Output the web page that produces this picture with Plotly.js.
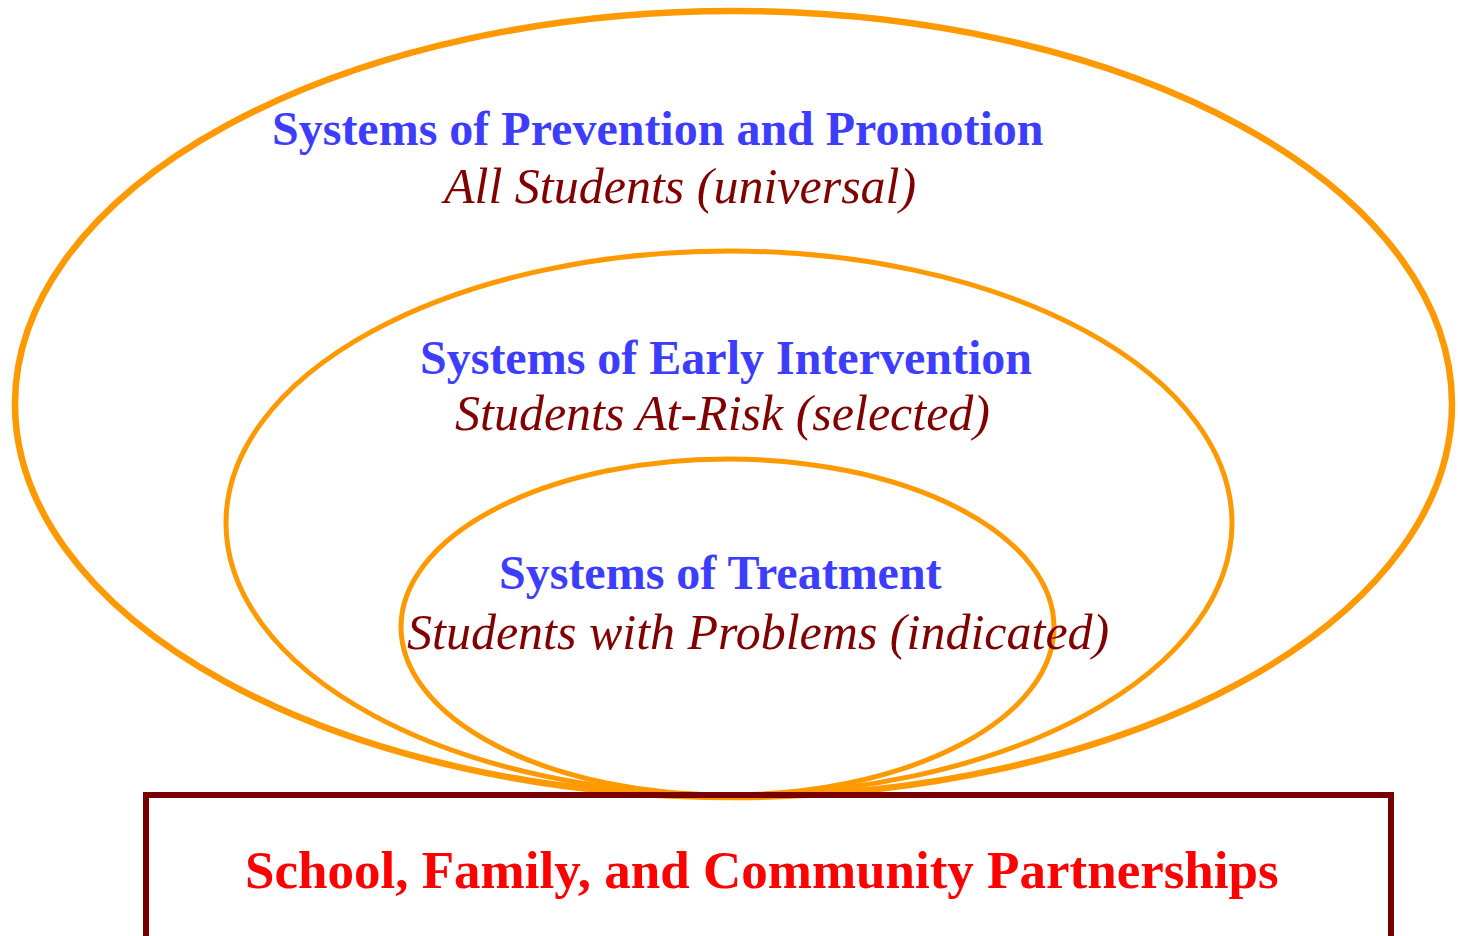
<!DOCTYPE html>
<html>
<head>
<meta charset="utf-8">
<script src="https://cdn.plot.ly/plotly-3.0.1.min.js"></script>
<style>html,body{margin:0;padding:0;background:#fff;}#chart{width:1458px;height:936px;}</style>
</head>
<body>
<div id="chart"></div>
<script>
// Diagram content
const systems = ["Systems of Prevention and Promotion", "Systems of Early Intervention", "Systems of Treatment"];
const populations = ["All Students (universal)", "Students At-Risk (selected)", "Students with Problems (indicated)"];
const foundation = ["School, Family, and Community Partnerships"];

// Layout geometry (pixel-space coordinates of the 1458x936 canvas)
const rings = [
  {x0: 15, x1: 1452, y0: 11, y1: 797, w: 6.5},
  {x0: 226, x1: 1232, y0: 251, y1: 795, w: 5},
  {x0: 401, x1: 1054, y0: 459, y1: 795, w: 5}
];
const sysPos = [{x: 658, y: 128}, {x: 726, y: 357}, {x: 720, y: 572}];
const popPos = [{x: 678, y: 186}, {x: 722, y: 413}, {x: 758, y: 632}];
const footPos = {x: 762, y: 870};

const shapes = rings.map(r => ({
  type: 'circle', xref: 'x', yref: 'y',
  x0: r.x0, x1: r.x1, y0: r.y0, y1: r.y1,
  line: {color: '#ff9900', width: r.w}, fillcolor: 'rgba(0,0,0,0)', layer: 'above'
}));
shapes.push({
  type: 'rect', xref: 'x', yref: 'y', x0: 146, x1: 1391, y0: 795, y1: 960,
  line: {color: '#780000', width: 6}, fillcolor: 'rgba(0,0,0,0)', layer: 'above'
});

const annotations = [];
systems.forEach((t, i) => annotations.push({
  x: sysPos[i].x, y: sysPos[i].y, xref: 'x', yref: 'y', text: '<b>' + t + '</b>', showarrow: false,
  xanchor: 'center', yanchor: 'middle',
  font: {family: 'Liberation Serif', size: 48, color: '#3d3dff'}
}));
populations.forEach((t, i) => annotations.push({
  x: popPos[i].x, y: popPos[i].y, xref: 'x', yref: 'y', text: '<i>' + t + '</i>', showarrow: false,
  xanchor: 'center', yanchor: 'middle',
  font: {family: 'Liberation Serif', size: 50, color: '#800000'}
}));
annotations.push({
  x: footPos.x, y: footPos.y, xref: 'x', yref: 'y', text: '<b>' + foundation[0] + '</b>', showarrow: false,
  xanchor: 'center', yanchor: 'middle',
  font: {family: 'Liberation Serif', size: 53, color: '#ff0000'}
});

const layout = {
  width: 1458, height: 936,
  margin: {l: 0, r: 0, t: 0, b: 0},
  paper_bgcolor: '#ffffff', plot_bgcolor: '#ffffff',
  xaxis: {range: [0, 1458], visible: false, fixedrange: true},
  yaxis: {range: [936, 0], visible: false, fixedrange: true},
  showlegend: false,
  shapes: shapes,
  annotations: annotations
};

Plotly.newPlot('chart', [{x: [], y: [], type: 'scatter', mode: 'markers', hoverinfo: 'skip'}], layout, {staticPlot: true, displayModeBar: false});
</script>
</body>
</html>
